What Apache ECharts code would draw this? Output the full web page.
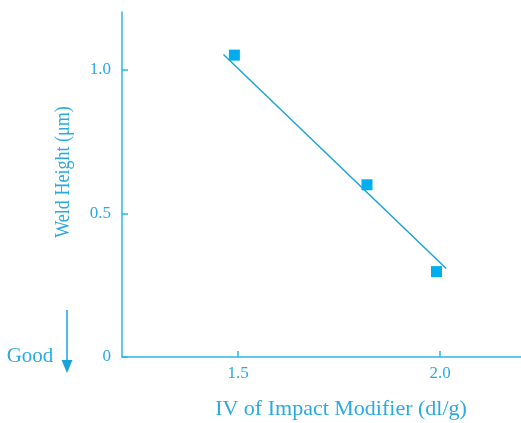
<!DOCTYPE html>
<html>
<head>
<meta charset="utf-8">
<script src="https://cdn.jsdelivr.net/npm/echarts@6/dist/echarts.min.js"></script>
<style>
  html, body { margin: 0; padding: 0; background: #ffffff; }
  #chart { width: 521px; height: 423px; }
</style>
</head>
<body>
<div id="chart"></div>
<script>
// Measured points: IV of impact modifier (dl/g) vs weld height (µm)
const ivValues = [1.491, 1.819, 1.991];
const weldHeights = [1.050, 0.599, 0.297];

// Fitted trend line end points
const fitX = [1.464, 2.015];
const fitY = [1.052, 0.308];

// Axis tick values
const xTicks = [1.5, 2.0];
const yTicks = [0, 0.5, 1.0];

const TEXT = '#29abe2';
const AXIS = '#2cb6ec';
const LINE = '#1aa3dd';
const MARK = '#00aeef';
const FONT = 'Liberation Serif';

const chart = echarts.init(document.getElementById('chart'), null, { renderer: 'canvas' });

chart.setOption({
  backgroundColor: '#ffffff',
  animation: false,
  grid: { left: 122, right: 0, top: 12, bottom: 66, containLabel: false },
  xAxis: {
    type: 'value',
    min: 1.213,
    max: 2.2,
    splitLine: { show: false },
    axisLine: { show: true, lineStyle: { color: AXIS, width: 1.5 } },
    axisTick: { show: true, inside: true, length: 6, customValues: xTicks, lineStyle: { color: AXIS, width: 1.5 } },
    axisLabel: {
      customValues: xTicks,
      color: TEXT, fontFamily: FONT, fontSize: 17, margin: 8,
      formatter: v => v.toFixed(1)
    }
  },
  yAxis: {
    type: 'value',
    min: 0,
    max: 1.2,
    splitLine: { show: false },
    axisLine: { show: true, lineStyle: { color: AXIS, width: 1.5 } },
    axisTick: { show: true, inside: true, length: 6, customValues: yTicks, lineStyle: { color: AXIS, width: 1.5 } },
    axisLabel: {
      customValues: yTicks,
      color: TEXT, fontFamily: FONT, fontSize: 17, margin: 11,
      formatter: v => (v === 0 ? '0' : v.toFixed(1))
    }
  },
  series: [
    {
      type: 'line',
      data: fitX.map((x, i) => [x, fitY[i]]),
      symbol: 'none',
      lineStyle: { color: LINE, width: 1.5 },
      z: 2
    },
    {
      type: 'scatter',
      data: ivValues.map((x, i) => [x, weldHeights[i]]),
      symbol: 'rect',
      symbolSize: 11,
      itemStyle: { color: MARK, opacity: 1 },
      z: 3
    }
  ],
  graphic: [
    {
      type: 'text',
      x: 63, y: 172,
      rotation: Math.PI / 2,
      scaleX: 0.86,
      style: {
        text: 'Weld Height (μm)',
        fill: TEXT, font: '21px "Liberation Serif"',
        align: 'center', verticalAlign: 'middle'
      }
    },
    {
      type: 'text',
      x: 341, y: 409,
      style: {
        text: 'IV of Impact Modifier (dl/g)',
        fill: TEXT, font: '22px "Liberation Serif"',
        align: 'center', verticalAlign: 'middle'
      }
    },
    {
      type: 'text',
      x: 30, y: 356,
      style: {
        text: 'Good',
        fill: TEXT, font: '21px "Liberation Serif"',
        align: 'center', verticalAlign: 'middle'
      }
    },
    {
      type: 'line',
      shape: { x1: 67, y1: 310, x2: 67, y2: 362 },
      style: { stroke: LINE, lineWidth: 1.5 }
    },
    {
      type: 'polygon',
      shape: { points: [[61.5, 360], [72.5, 360], [67, 373]] },
      style: { fill: LINE }
    }
  ]
});
</script>
</body>
</html>
